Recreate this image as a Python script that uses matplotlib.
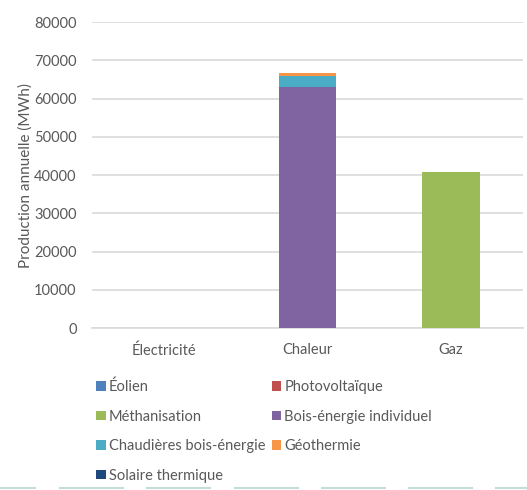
import matplotlib.pyplot as plt
from matplotlib.patches import Patch
import numpy as np

plt.rcParams['font.family'] = ['Lato', 'DejaVu Sans']

# Data
categories = ["Électricité", "Chaleur", "Gaz"]
series_names = ["Éolien", "Photovoltaïque", "Méthanisation", "Bois-énergie individuel",
                "Chaudières bois-énergie", "Géothermie", "Solaire thermique"]
eolien = [0, 0, 0]
photovoltaique = [0, 0, 0]
methanisation = [0, 0, 40900]
bois_individuel = [0, 63100, 0]
chaudieres_bois = [0, 2800, 0]
geothermie = [0, 800, 0]
solaire_thermique = [0, 50, 0]
y_ticks = [0, 10000, 20000, 30000, 40000, 50000, 60000, 70000, 80000]

colors = ["#4f81bd", "#c0504d", "#9bbb59", "#8064a2", "#4bacc6", "#f79646", "#1f497d"]
grey = "#595959"

fig = plt.figure(figsize=(5.27, 4.9), dpi=100)
ax = fig.add_axes([0.1746, 0.3306, 0.8178, 0.6245])

x = np.arange(len(categories))
bottom = np.zeros(len(categories))
all_series = [eolien, photovoltaique, methanisation, bois_individuel,
              chaudieres_bois, geothermie, solaire_thermique]
for name, vals, c in zip(series_names, all_series, colors):
    ax.bar(x, vals, width=0.4, bottom=bottom, color=c, label=name, zorder=3)
    bottom += np.array(vals)

ax.set_xlim(-0.5, 2.5)
ax.set_ylim(0, 80000)
ax.set_yticks(y_ticks)
ax.set_xticks(x)
ax.set_xticklabels(categories)
ax.grid(axis='y', color='#d9d9d9', linewidth=1.2, zorder=0)
for s in ['top', 'right', 'left']:
    ax.spines[s].set_visible(False)
ax.spines['bottom'].set_color('#d9d9d9')
ax.spines['bottom'].set_linewidth(1.2)
ax.tick_params(axis='both', length=0, colors=grey, labelsize=10.5)
ax.tick_params(axis='x', pad=11)
ax.tick_params(axis='y', pad=11)
ax.set_ylabel("Production annuelle (MWh)", color=grey, fontsize=11, labelpad=1)

# legend, filled row by row like the original
order = [0, 2, 4, 6, 1, 3, 5]
handles = [Patch(facecolor=colors[i], label=series_names[i]) for i in order]
fig.legend(handles=handles, ncol=2, loc='upper left', bbox_to_anchor=(0.158, 0.252),
           frameon=False, fontsize=10.5, labelcolor=grey, handlelength=0.65,
           handleheight=0.65, handletextpad=0.2, columnspacing=0.45, labelspacing=1.06)

# faint decorative dashes at the bottom
for x0, x1 in [(0, 35), (60, 123), (147, 210), (235, 298), (322, 385), (409, 472), (496, 527)]:
    fig.add_artist(plt.Line2D([x0 / 527, x1 / 527], [0.004, 0.004], color='#c5dcd8', linewidth=1.5))

fig.savefig("out.png", dpi=100)
